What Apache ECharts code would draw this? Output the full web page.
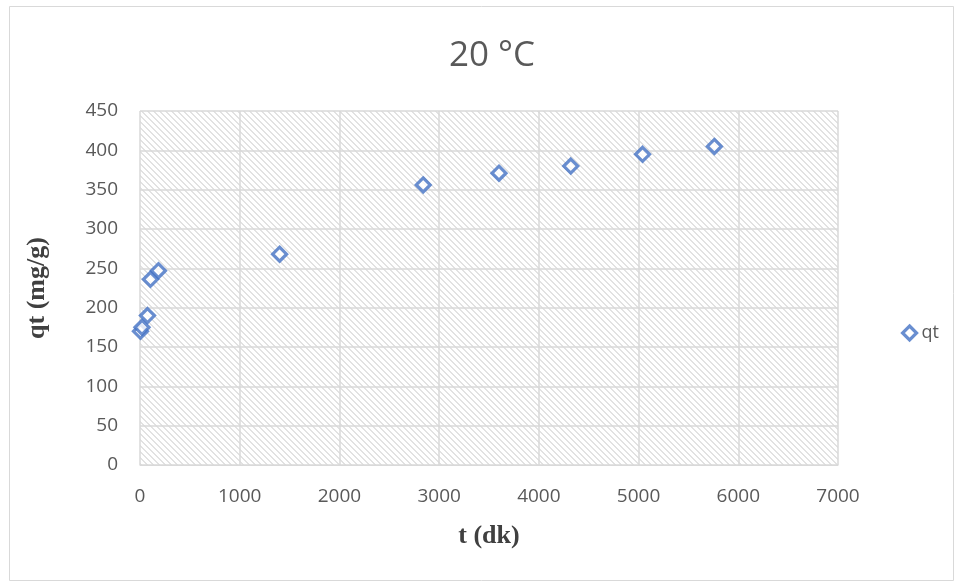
<!DOCTYPE html>
<html>
<head>
<meta charset="utf-8">
<script src="https://cdn.jsdelivr.net/npm/echarts@6/dist/echarts.min.js"></script>
<style>
  html, body { margin: 0; padding: 0; background: #ffffff; }
  #chart { width: 961px; height: 582px; }
</style>
</head>
<body>
<div id="chart"></div>
<script>
// Adsorption capacity over time at 20 °C
const chartTitle = '20 °C';
const seriesName = 'qt';
const timeMinutes = [5, 20, 75, 105, 185, 1400, 2840, 3600, 4320, 5040, 5760];
const qtValues = [170, 175, 190, 236, 247, 268, 356, 371, 380, 395, 405];
const xTicks = { min: 0, max: 7000, step: 1000 };
const yTicks = { min: 0, max: 450, step: 50 };

// Downward diagonal hatch used as the plot background
function makeHatch() {
  const size = 6;
  const c = document.createElement('canvas');
  c.width = size; c.height = size;
  const ctx = c.getContext('2d');
  ctx.fillStyle = '#ffffff';
  ctx.fillRect(0, 0, size, size);
  ctx.fillStyle = '#e2e2e2';
  for (let y = 0; y < size; y++) {
    for (let x = 0; x < size; x++) {
      const d = ((x - y) % size + size) % size;
      if (d < 2) ctx.fillRect(x, y, 1, 1);
    }
  }
  return c;
}

const points = timeMinutes.map((t, i) => [t, qtValues[i]]);
const chart = echarts.init(document.getElementById('chart'), null, { renderer: 'canvas' });

const labelFont = { color: '#595959', fontFamily: 'Open Sans', fontSize: 19 };
const nameFont = { color: '#404040', fontFamily: 'Liberation Serif', fontWeight: 'bold', fontSize: 26 };
const markerStyle = { color: '#ffffff', borderColor: '#4472C4', borderWidth: 3.2 };

chart.setOption({
  backgroundColor: '#ffffff',
  animation: false,
  title: {
    text: chartTitle,
    left: 487, top: 34, textAlign: 'center',
    textStyle: { color: '#595959', fontFamily: 'Open Sans', fontWeight: 'normal', fontSize: 35 }
  },
  legend: {
    data: [{ name: seriesName, icon: 'diamond' }],
    right: 17, top: 319,
    itemWidth: 14, itemHeight: 14, itemGap: 6,
    itemStyle: markerStyle,
    textStyle: { color: '#595959', fontFamily: 'Open Sans', fontSize: 18 }
  },
  grid: {
    left: 140, top: 111, width: 698, height: 354,
    show: true,
    borderWidth: 0,
    backgroundColor: { image: makeHatch(), repeat: 'repeat' }
  },
  xAxis: {
    type: 'value',
    min: xTicks.min, max: xTicks.max, interval: xTicks.step,
    name: 't (dk)', nameLocation: 'middle', nameGap: 58,
    nameTextStyle: nameFont,
    axisLine: { show: true, lineStyle: { color: '#d9d9d9', width: 1 } },
    axisTick: { show: false },
    axisLabel: Object.assign({ margin: 22, formatter: v => String(v) }, labelFont),
    splitLine: { show: true, lineStyle: { color: '#d9d9d9', width: 1.5 } }
  },
  yAxis: {
    type: 'value',
    min: yTicks.min, max: yTicks.max, interval: yTicks.step,
    name: 'qt (mg/g)', nameLocation: 'middle', nameGap: 90, nameRotate: 90,
    nameTextStyle: nameFont,
    axisLine: { show: false },
    axisTick: { show: false },
    axisLabel: Object.assign({ margin: 22, formatter: v => String(v) }, labelFont),
    splitLine: { show: true, lineStyle: { color: '#d9d9d9', width: 1.5 } }
  },
  series: [{
    name: seriesName,
    type: 'scatter',
    data: points,
    symbol: 'diamond',
    symbolSize: 14,
    itemStyle: markerStyle
  }],
  graphic: [{
    type: 'rect',
    shape: { x: 9.5, y: 6.5, width: 944, height: 574 },
    style: { fill: 'none', stroke: '#d9d9d9', lineWidth: 1 },
    silent: true
  }]
});
</script>
</body>
</html>
